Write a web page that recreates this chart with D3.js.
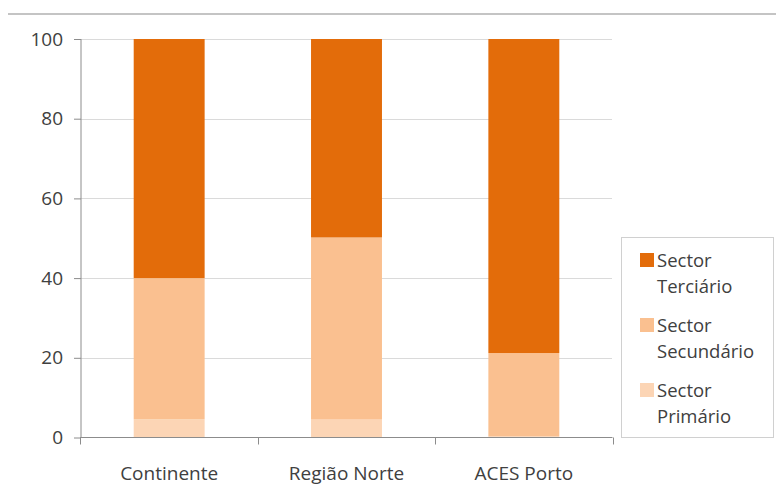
<!DOCTYPE html>
<html><head><meta charset="utf-8">
<script src="https://cdn.jsdelivr.net/npm/d3@7"></script>
<style>body{margin:0;background:#fff}svg{display:block}</style>
</head><body>
<script>
const categories = ["Continente", "Região Norte", "ACES Porto"];
const seriesNames = ["Sector Primário", "Sector Secundário", "Sector Terciário"];
const primario = [4.6, 4.5, 0.3];
const secundario = [35.4, 45.7, 20.9];
const terciario = [60.0, 49.8, 78.8];
const yTicks = [0, 20, 40, 60, 80, 100];
const colors = ["#FCD5B5", "#FAC090", "#E36C0A"];
const legendOrder = [2, 1, 0];

const W = 776, H = 502;
const svg = d3.select("body").append("svg").attr("width", W).attr("height", H);
const font = "'Open Sans', sans-serif";

// top rule
svg.append("line").attr("x1", 8).attr("x2", W).attr("y1", 14).attr("y2", 14)
  .attr("stroke", "#c4c4c4").attr("stroke-width", 2);

const x = d3.scaleBand().domain(categories).range([80.5, 612.5]).paddingInner(0.6).paddingOuter(0.3);
const y = d3.scaleLinear().domain([0, 100]).range([437.5, 39]);

// grid
svg.append("g").selectAll("line").data(yTicks.filter(d => d > 0)).join("line")
  .attr("x1", 81).attr("x2", 612).attr("y1", d => Math.round(y(d)) + 0.5).attr("y2", d => Math.round(y(d)) + 0.5)
  .attr("stroke", "#dadada").attr("stroke-width", 1);

// stacked data
const table = categories.map((c, i) => ({cat: c, s0: primario[i], s1: secundario[i], s2: terciario[i]}));
const stack = d3.stack().keys(["s0", "s1", "s2"])(table);

svg.append("g").selectAll("g").data(stack).join("g").attr("fill", (d, i) => colors[i])
  .selectAll("rect").data(d => d).join("rect")
  .attr("x", d => x(d.data.cat)).attr("width", x.bandwidth())
  .attr("y", d => y(d[1])).attr("height", d => y(d[0]) - y(d[1]));

// y axis
const yAxis = svg.append("g").attr("transform", "translate(81,0)")
  .call(d3.axisLeft(y).tickValues(yTicks).tickSize(7).tickPadding(11));
yAxis.select(".domain").attr("stroke", "#8c8c8c").attr("d", "M0," + y(100) + "V" + y(0));
yAxis.selectAll(".tick line").attr("stroke", "#8c8c8c");
yAxis.selectAll("text").attr("font-family", font).attr("font-size", 19).attr("fill", "#404040");

// x axis
const xAxisG = svg.append("g").attr("transform", "translate(0," + y(0) + ")");
xAxisG.append("line").attr("x1", 80).attr("x2", 612.5).attr("y1", 0).attr("y2", 0).attr("stroke", "#8c8c8c");
const step = x.step();
const bounds = categories.map(c => x(c) - step * x.paddingInner() / 2).concat([x(categories[2]) + x.bandwidth() + step * x.paddingInner() / 2]);
xAxisG.selectAll("line.tk").data(bounds).join("line").attr("class", "tk")
  .attr("x1", d => Math.round(d) + 0.5).attr("x2", d => Math.round(d) + 0.5).attr("y1", 0).attr("y2", 7).attr("stroke", "#8c8c8c");
xAxisG.selectAll("text").data(categories).join("text")
  .attr("x", d => x(d) + x.bandwidth() / 2).attr("y", 42).attr("text-anchor", "middle")
  .attr("font-family", font).attr("font-size", 19).attr("fill", "#404040").text(d => d);

// legend
const lg = svg.append("g");
lg.append("rect").attr("x", 621.5).attr("y", 237.5).attr("width", 152).attr("height", 200)
  .attr("fill", "#fff").attr("stroke", "#d0d0d0");
legendOrder.forEach((si, k) => {
  const top = 253 + k * 65;
  lg.append("rect").attr("x", 640).attr("y", top).attr("width", 14).attr("height", 14).attr("fill", colors[si]);
  const parts = seriesNames[si].split(" ");
  const t = lg.append("text").attr("font-family", font).attr("font-size", 18.5).attr("fill", "#404040");
  t.append("tspan").attr("x", 657).attr("y", top + 14).text(parts[0]);
  t.append("tspan").attr("x", 657).attr("y", top + 40).text(parts[1]);
});
</script>
</body></html>
